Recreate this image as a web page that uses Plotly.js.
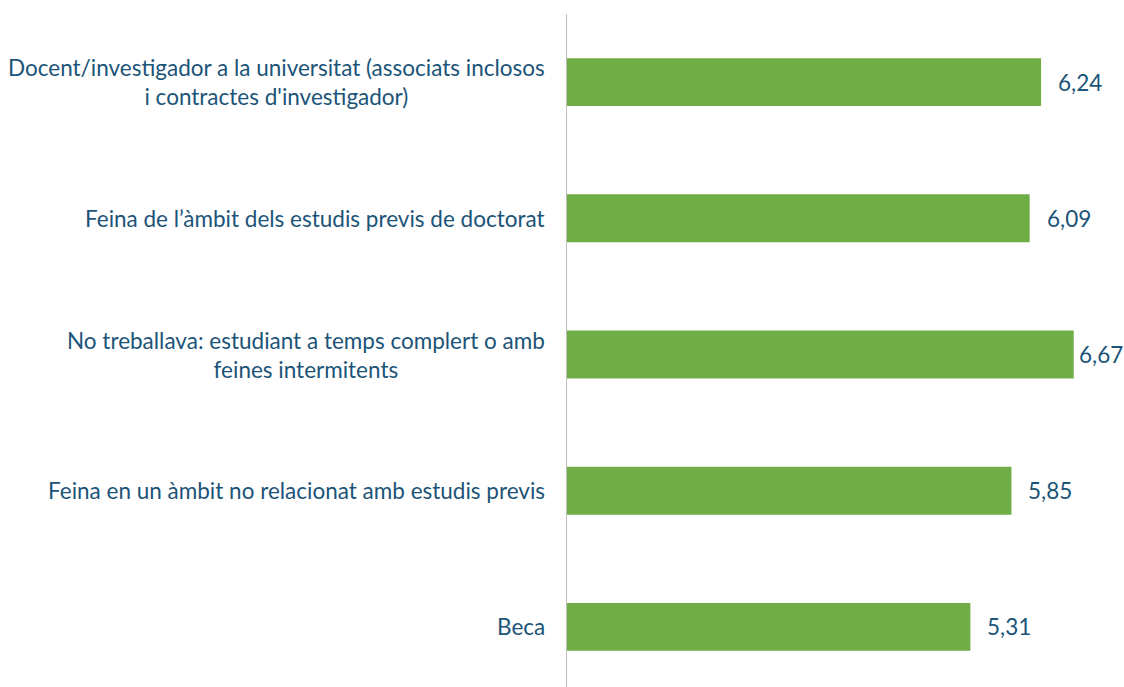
<!DOCTYPE html>
<html>
<head>
<meta charset="utf-8">
<script src="https://cdn.plot.ly/plotly-3.0.1.min.js"></script>
<style>html,body{margin:0;padding:0;overflow:hidden;background:#fff;}#chart{width:1124px;height:700px;}</style>
</head>
<body>
<div id="chart"></div>
<script>
const categories = [
  "Docent/investigador a la universitat (associats inclosos<br>i contractes d'investigador)",
  "Feina de l’àmbit dels estudis previs de doctorat",
  "No treballava: estudiant a temps complert o amb<br>feines intermitents",
  "Feina en un àmbit no relacionat amb estudis previs",
  "Beca"
];
const values = [6.24, 6.09, 6.67, 5.85, 5.31];
const ids = ["c1","c2","c3","c4","c5"];

const textColor = "#1B5478";
const fontFam = "Lato, 'Open Sans', sans-serif";
const fontSize = 22.5;

const marginL = 567, marginR = 10, W = 1124;
const xMax = 7.2;
const pxPerUnit = (W - marginL - marginR) / xMax;

const trace = {
  type: "bar",
  orientation: "h",
  x: values,
  y: ids,
  marker: {color: "#70AD47"},
  hoverinfo: "none"
};

const catAnn = categories.map((c, i) => ({
  xref: "paper", yref: "y",
  x: 0, y: ids[i],
  xanchor: "right", yanchor: "middle",
  xshift: -20,
  text: c,
  align: "center",
  showarrow: false,
  font: {family: fontFam, size: fontSize, color: textColor}
}));

const valAnn = values.map((v, i) => {
  const end = v * pxPerUnit;
  const textW = 43;
  const avail = (W - marginL - marginR) + marginR - 4 - end - textW;
  return {
    xref: "x", yref: "y",
    x: v, y: ids[i],
    xanchor: "left", yanchor: "middle",
    xshift: Math.min(15, avail),
    text: v.toFixed(2).replace(".", ","),
    showarrow: false,
    font: {family: fontFam, size: fontSize, color: textColor}
  };
});

const layout = {
  width: 1124, height: 700,
  margin: {l: marginL, r: marginR, t: 14, b: 5},
  paper_bgcolor: "#fff", plot_bgcolor: "#fff",
  bargap: 0.648,
  showlegend: false,
  xaxis: {range: [0, xMax], visible: false, fixedrange: true},
  yaxis: {
    type: "category",
    categoryorder: "array", categoryarray: ids,
    autorange: "reversed",
    showticklabels: false, ticks: "",
    showgrid: false, zeroline: false,
    showline: true, linecolor: "#BFBFBF", linewidth: 1
  },
  annotations: catAnn.concat(valAnn)
};

Plotly.newPlot("chart", [trace], layout, {displayModeBar: false, staticPlot: true});
</script>
</body>
</html>
